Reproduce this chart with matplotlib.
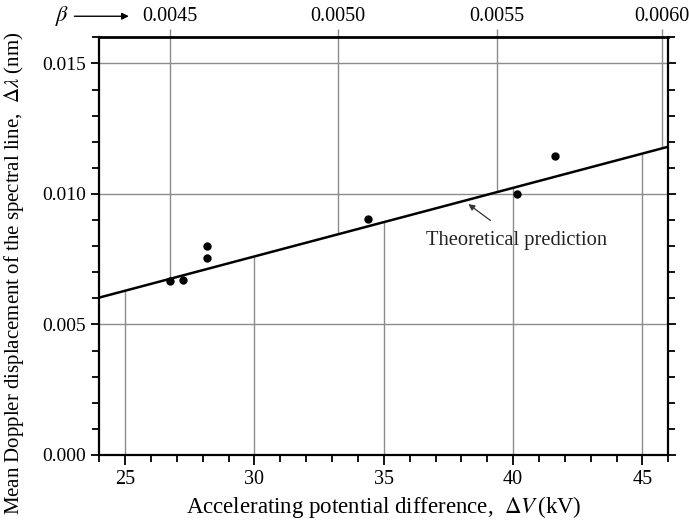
# Doppler displacement of the spectral line vs accelerating potential
# points = measurements, straight line = theoretical prediction
# top axis gives beta = v/c for the same potentials

import numpy as np
import matplotlib.pyplot as plt
from matplotlib.ticker import MultipleLocator

plt.rcParams['font.family'] = ['Liberation Serif', 'DejaVu Serif']
plt.rcParams['mathtext.fontset'] = 'stix'

# measured points (kV, nm)
volts = [26.73, 27.23, 28.18, 28.18, 34.38, 40.16, 41.62]
shift = [0.00668, 0.00670, 0.00800, 0.00756, 0.00903, 0.00998, 0.01146]

# theoretical prediction, straight line across the plot
theory_volts = [24.0, 46.0]
theory_shift = [0.00603, 0.01181]

beta_labels = ['0.0045', '0.0050', '0.0055', '0.0060']
beta_at_kv = [26.73, 33.22, 39.37, 45.74]

kv_ticks = [25, 30, 35, 40, 45]
grid_color = '#8c8c8c'

fig = plt.figure(figsize=(6.89, 5.24), dpi=100)
ax = fig.add_axes([0.1441, 0.1317, 0.8259, 0.7971])

# grid: kV lines stop at the theory line, beta lines start from it
line_at = lambda v: np.interp(v, theory_volts, theory_shift)
ax.vlines(kv_ticks, 0, line_at(kv_ticks), color=grid_color, lw=1.0, zorder=1)
ax.vlines(beta_at_kv, line_at(beta_at_kv), 0.016, color=grid_color, lw=1.0, zorder=1)
ax.hlines([0.005, 0.010, 0.015], 24, 46, color=grid_color, lw=1.0, zorder=1)

ax.plot(theory_volts, theory_shift, color='black', lw=1.8, zorder=3)
ax.plot(volts, shift, 'o', color='black', markersize=5, zorder=4)

ax.annotate('Theoretical prediction', xy=(38.27, 0.00961), xytext=(40.15, 0.00823),
            ha='center', va='center', fontsize=14.8, color='#222222',
            arrowprops=dict(arrowstyle='-|>', color='#333333', lw=0.9,
                            mutation_scale=9, shrinkA=9, shrinkB=0))

ax.set_xlim(24, 46)
ax.set_ylim(0, 0.016)
ax.set_xticks(kv_ticks)
ax.xaxis.set_minor_locator(MultipleLocator(1))
ax.set_yticks([0.000, 0.005, 0.010, 0.015])
ax.set_yticklabels(['0.000', '0.005', '0.010', '0.015'])
ax.yaxis.set_minor_locator(MultipleLocator(0.001))

ax.tick_params(which='both', direction='out', labelsize=14.5, colors='black', width=1.3)
ax.tick_params(axis='y', labelsize=14)
ax.tick_params(which='major', length=7)
ax.tick_params(which='minor', length=5)
ax.tick_params(axis='y', which='both', right=True, labelright=False)
ax.tick_params(axis='y', which='major', right=True, length=6)

for sp in ax.spines.values():
    sp.set_linewidth(1.6)
ax.spines['top'].set_linewidth(2.0)

top = ax.secondary_xaxis('top')
top.set_xticks(beta_at_kv)
top.set_xticklabels(beta_labels)
top.tick_params(direction='out', length=6, width=1.0, color=grid_color,
                labelsize=14.5, pad=2)
top.spines['top'].set_visible(False)

ax.set_xlabel(r'Accelerating potential difference,  $\Delta V\,$(kV)', fontsize=16.5,
              labelpad=4)
ax.set_ylabel(r'Mean Doppler displacement of the spectral line,  $\Delta\lambda$ (nm)',
              fontsize=15)
ax.yaxis.set_label_coords(-0.128, 0.436)

# beta marker at the top left
fig.text(0.090, 0.970, r'$\beta$', fontsize=16, ha='center', va='center')
ax.annotate('', xy=(0.187, 0.969), xytext=(0.108, 0.969), xycoords='figure fraction',
            textcoords='figure fraction',
            arrowprops=dict(arrowstyle='-|>', color='black', lw=1.0,
                            mutation_scale=10, shrinkA=0, shrinkB=0))

fig.savefig('out.png', dpi=100)
